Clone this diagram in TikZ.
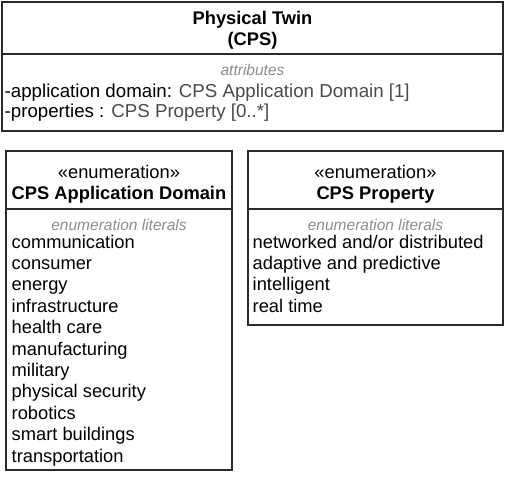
\documentclass[tikz,border=0pt]{standalone}
\usepackage{fontspec}
\setmainfont{Liberation Sans}
\definecolor{framecol}{HTML}{2B2B2B}
\definecolor{typecol}{HTML}{4A4A4A}
\definecolor{notecol}{HTML}{8C8C8C}
\begin{document}
\begin{tikzpicture}[x=1pt,y=-1pt,
  umlbox/.style={draw=framecol,line width=1.4pt},
  sepline/.style={draw=framecol,line width=1.3pt},
  txt/.style={inner sep=0pt,font=\fontsize{18.3}{21.4}\selectfont,text=black},
  title/.style={txt,anchor=base,font=\fontsize{18.3}{21.4}\selectfont\bfseries},
  stereo/.style={txt,anchor=base},
  note/.style={inner sep=0pt,anchor=base,font=\fontsize{15.5}{18}\selectfont\itshape,text=notecol},
  item/.style={txt,anchor=base west},
  attr/.style={item,font=\fontsize{18.7}{21.4}\selectfont}
]
\useasboundingbox (0,0) rectangle (505,480);

% ---- Physical Twin class ----
\draw[umlbox] (2,2) rectangle (503,131);
\draw[sepline] (2,54) -- (503,54);
\node[title] (ptname) at (252.5,24.5) {Physical Twin};
\node[title] (ptcps) at (252.5,45) {(CPS)};
\node[note] (ptattr) at (252.5,75) {attributes};
\node[attr] (ptdomain) at (4.5,97) {-application domain: \textcolor{typecol}{CPS Application Domain [1]}};
\node[attr] (ptprops) at (4.5,117) {-properties : \textcolor{typecol}{CPS Property [0..*]}};

% ---- CPS Application Domain enumeration ----
\draw[umlbox] (6,151) rectangle (232,470);
\draw[sepline] (6,209) -- (232,209);
\node[stereo] (adstereo) at (119,178.5) {«enumeration»};
\node[title] (adname) at (119,199.5) {CPS Application Domain};
\node[note] (adnote) at (119,230.5) {enumeration literals};
\foreach \lit [count=\i from 0] in {communication,consumer,energy,infrastructure,health care,manufacturing,military,physical security,robotics,smart buildings,transportation}
  \node[item] (adlit\i) at (11.5,248+21.4*\i) {\lit};

% ---- CPS Property enumeration ----
\draw[umlbox] (248,151) rectangle (503,325);
\draw[sepline] (248,209) -- (503,209);
\node[stereo] (cpstereo) at (375.5,178.5) {«enumeration»};
\node[title] (cpname) at (375.5,199.5) {CPS Property};
\node[note] (cpnote) at (375.5,230.5) {enumeration literals};
\foreach \lit [count=\i from 0] in {networked and/or distributed,adaptive and predictive,intelligent,real time}
  \node[item] (cplit\i) at (252.5,248+21.4*\i) {\lit};
\end{tikzpicture}
\end{document}
